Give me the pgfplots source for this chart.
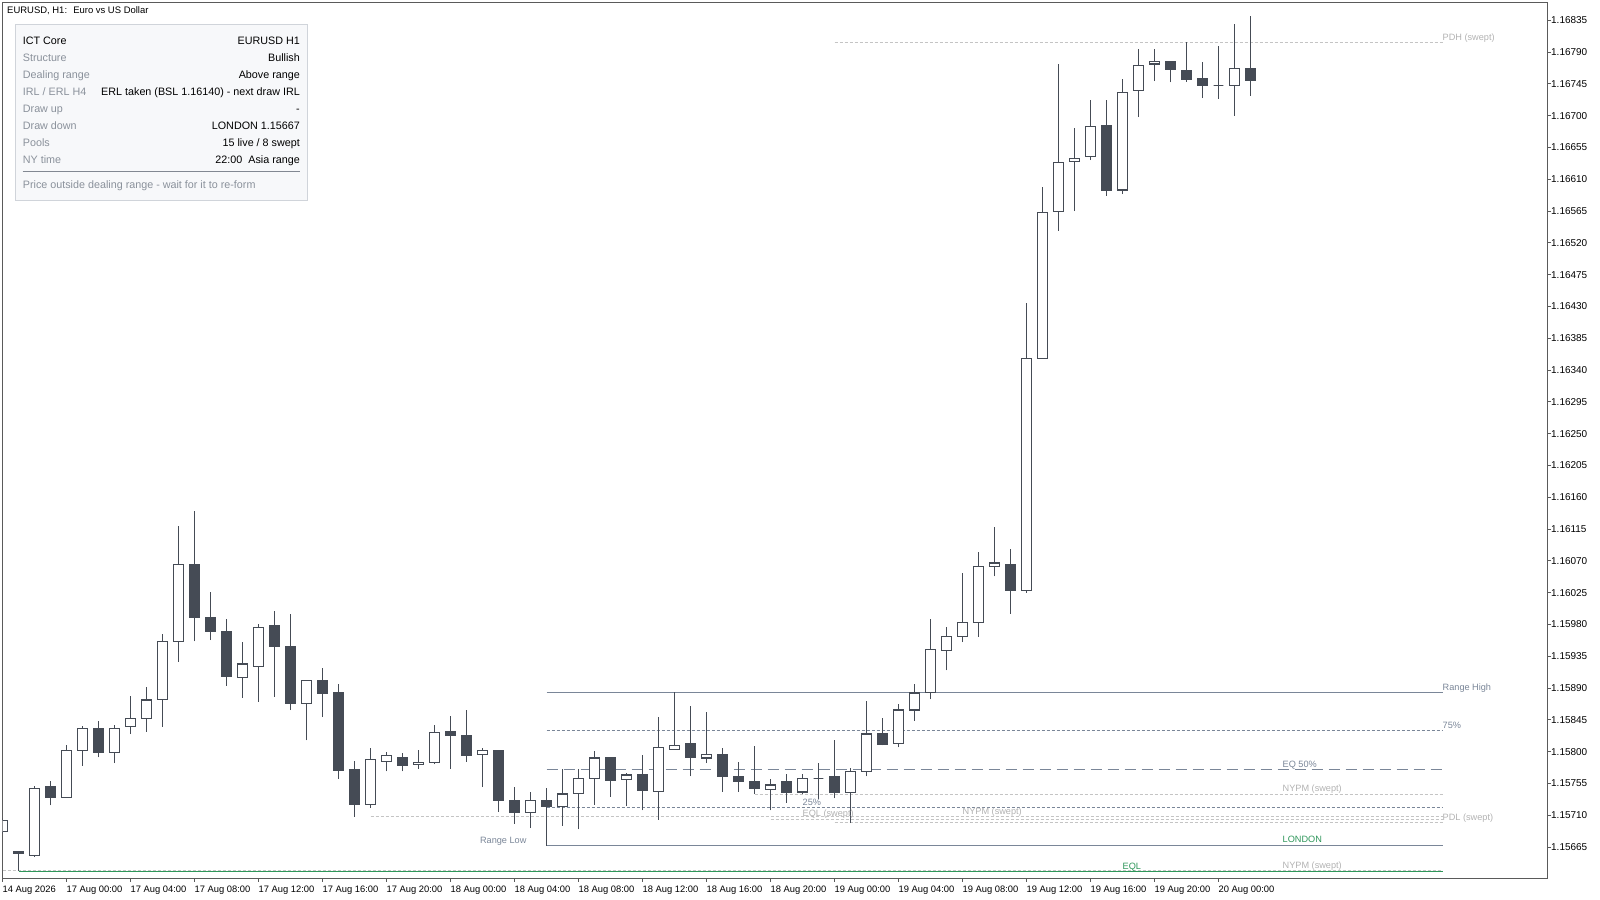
\documentclass[border=0pt]{standalone}
\usepackage{fontspec}
\setmainfont{Liberation Sans}
\usepackage{pgfplots}
\usepackage{pgfplotstable}
\pgfplotsset{compat=1.18}

\definecolor{candle}{RGB}{69,75,85}
\definecolor{frame}{RGB}{90,90,90}
\definecolor{rng}{RGB}{122,134,152}
\definecolor{swept}{RGB}{196,196,196}
\definecolor{swepttext}{RGB}{178,178,178}
\definecolor{eqlgreen}{RGB}{46,150,90}
\definecolor{panelfill}{RGB}{247,248,250}
\definecolor{panelborder}{RGB}{208,212,218}
\definecolor{panellabel}{RGB}{138,145,155}
\definecolor{panelsep}{RGB}{130,136,146}

\newcommand\lbl{\fontsize{9.2}{11}\selectfont}
\newcommand\pnl{\fontsize{10.8}{13}\selectfont}

% k open high low close  (EURUSD H1)
\pgfplotstableread{
k o h l c
0 1.15687 1.15706 1.15684 1.15703
1 1.15659 1.15659 1.15631 1.15656
2 1.15653 1.15751 1.15651 1.15748
3 1.15750 1.15758 1.15724 1.15735
4 1.15735 1.15809 1.15735 1.15802
5 1.15802 1.15836 1.15780 1.15833
6 1.15833 1.15843 1.15792 1.15799
7 1.15799 1.15838 1.15784 1.15833
8 1.15836 1.15879 1.15825 1.15847
9 1.15847 1.15892 1.15828 1.15873
10 1.15874 1.15967 1.15835 1.15956
11 1.15956 1.16119 1.15927 1.16065
12 1.16064 1.16141 1.15956 1.15990
13 1.15990 1.16026 1.15958 1.15970
14 1.15970 1.15988 1.15893 1.15906
15 1.15905 1.15955 1.15876 1.15924
16 1.15921 1.15980 1.15871 1.15976
17 1.15979 1.15999 1.15878 1.15949
18 1.15949 1.15995 1.15859 1.15868
19 1.15868 1.15901 1.15816 1.15901
20 1.15901 1.15918 1.15849 1.15883
21 1.15883 1.15896 1.15762 1.15773
22 1.15775 1.15787 1.15708 1.15725
23 1.15725 1.15805 1.15721 1.15789
24 1.15786 1.15800 1.15772 1.15795
25 1.15792 1.15798 1.15772 1.15780
26 1.15782 1.15802 1.15776 1.15785
27 1.15785 1.15838 1.15782 1.15827
28 1.15828 1.15851 1.15776 1.15823
29 1.15823 1.15859 1.15786 1.15795
30 1.15796 1.15805 1.15750 1.15802
31 1.15802 1.15802 1.15715 1.15731
32 1.15731 1.15750 1.15698 1.15714
33 1.15714 1.15743 1.15692 1.15731
34 1.15731 1.15749 1.15667 1.15722
35 1.15722 1.15776 1.15695 1.15740
36 1.15741 1.15776 1.15690 1.15762
37 1.15762 1.15801 1.15725 1.15791
38 1.15791 1.15792 1.15736 1.15759
39 1.15761 1.15770 1.15723 1.15767
40 1.15768 1.15795 1.15717 1.15745
41 1.15744 1.15849 1.15704 1.15806
42 1.15803 1.15884 1.15803 1.15809
43 1.15811 1.15865 1.15765 1.15792
44 1.15791 1.15856 1.15784 1.15796
45 1.15796 1.15805 1.15743 1.15765
46 1.15765 1.15785 1.15743 1.15758
47 1.15758 1.15808 1.15740 1.15748
48 1.15747 1.15761 1.15717 1.15753
49 1.15758 1.15768 1.15728 1.15743
50 1.15743 1.15768 1.15740 1.15762
51 1.15762 1.15784 1.15733 1.15762
52 1.15765 1.15817 1.15734 1.15743
53 1.15742 1.15777 1.15699 1.15772
54 1.15772 1.15872 1.15765 1.15825
55 1.15825 1.15848 1.15809 1.15810
56 1.15812 1.15868 1.15806 1.15859
57 1.15859 1.15896 1.15844 1.15883
58 1.15884 1.15988 1.15874 1.15945
59 1.15943 1.15976 1.15915 1.15963
60 1.15963 1.16053 1.15955 1.15983
61 1.15983 1.16082 1.15963 1.16062
62 1.16062 1.16118 1.16048 1.16067
63 1.16065 1.16087 1.15995 1.16028
64 1.16028 1.16435 1.16025 1.16356
65 1.16356 1.16599 1.16356 1.16563
66 1.16564 1.16773 1.16537 1.16634
67 1.16635 1.16682 1.16565 1.16639
68 1.16642 1.16722 1.16637 1.16685
69 1.16686 1.16722 1.16587 1.16594
70 1.16595 1.16752 1.16589 1.16733
71 1.16736 1.16794 1.16698 1.16771
72 1.16773 1.16794 1.16749 1.16777
73 1.16777 1.16777 1.16747 1.16765
74 1.16764 1.16804 1.16748 1.16752
75 1.16753 1.16776 1.16725 1.16743
76 1.16743 1.16799 1.16724 1.16743
77 1.16743 1.16830 1.16700 1.16767
78 1.16767 1.16841 1.16728 1.16750
}\candles

\begin{document}
\begin{tikzpicture}
\useasboundingbox (0,0) rectangle (1600bp,900bp);
\begin{axis}[
  at={(2.5bp,21.5bp)}, anchor=south west,
  scale only axis, width=1545bp, height=876.3bp,
  xmin=0, xmax=96.5625,
  y coord trafo/.code={\pgfmathfloatparsenumber{#1}\pgfmathfloattosci{\pgfmathresult}\edef\pgfmathresult{\fpeval{(\pgfmathresult-1.15)*100000}}},
  ymin=1.1562057, ymax=1.1686061,
  axis line style={draw=frame, line width=1bp},
  tick align=outside,
  major tick length=3.5bp,
  tick style={draw=frame, line width=1bp},
  xtick pos=bottom, ytick pos=right,
  yticklabel pos=right,
  xtick={0,4,...,76},
  xticklabels={14 Aug 2026,17 Aug 00:00,17 Aug 04:00,17 Aug 08:00,17 Aug 12:00,17 Aug 16:00,17 Aug 20:00,18 Aug 00:00,18 Aug 04:00,18 Aug 08:00,18 Aug 12:00,18 Aug 16:00,18 Aug 20:00,19 Aug 00:00,19 Aug 04:00,19 Aug 08:00,19 Aug 12:00,19 Aug 16:00,19 Aug 20:00,20 Aug 00:00},
  ytick={1.15665,1.15710,1.15755,1.15800,1.15845,1.15890,1.15935,1.15980,1.16025,1.16070,1.16115,1.16160,1.16205,1.16250,1.16295,1.16340,1.16385,1.16430,1.16475,1.16520,1.16565,1.16610,1.16655,1.16700,1.16745,1.16790,1.16835},
  yticklabels={1.15665,1.15710,1.15755,1.15800,1.15845,1.15890,1.15935,1.15980,1.16025,1.16070,1.16115,1.16160,1.16205,1.16250,1.16295,1.16340,1.16385,1.16430,1.16475,1.16520,1.16565,1.16610,1.16655,1.16700,1.16745,1.16790,1.16835},
  xticklabel style={font=\fontsize{9.4}{11}\selectfont, anchor=north west, inner sep=0pt, yshift=-4bp},
  yticklabel style={font=\fontsize{10}{12}\selectfont, anchor=west, inner sep=0pt},
]
% --- levels (behind candles)
\addplot[draw=swept, line width=1bp, dash pattern=on 3bp off 2bp] coordinates {(52,1.16804) (90,1.16804)};
\addplot[draw=rng, line width=1bp] coordinates {(34,1.15884) (90,1.15884)};
\addplot[draw=rng, line width=1bp, dash pattern=on 3bp off 2bp] coordinates {(34,1.15830) (90,1.15830)};
\addplot[draw=rng, line width=1bp, dash pattern=on 11bp off 6bp] coordinates {(34,1.157755) (90,1.157755)};
\addplot[draw=swept, line width=1bp, dash pattern=on 3bp off 2bp] coordinates {(47,1.15740) (90,1.15740)};
\addplot[draw=rng, line width=1bp, dash pattern=on 3bp off 2bp] coordinates {(34,1.15721) (90,1.15721)};
\addplot[draw=swept, line width=1bp, dash pattern=on 3bp off 2bp] coordinates {(23,1.15709) (90,1.15709)};
\addplot[draw=swept, line width=1bp, dash pattern=on 3bp off 2bp] coordinates {(48,1.15704) (90,1.15704)};
\addplot[draw=swept, line width=1bp, dash pattern=on 3bp off 2bp] coordinates {(52,1.15700) (90,1.15700)};
\addplot[draw=rng, line width=1bp] coordinates {(34,1.15667) (90,1.15667)};
\addplot[draw=rng, line width=1bp] coordinates {(34,1.15722) (34,1.15667)};
\addplot[draw=swept, line width=1bp, dash pattern=on 3bp off 2bp] coordinates {(0,1.15632) (90,1.15632)};
\addplot[draw=eqlgreen, line width=1bp] coordinates {(1,1.15631) (90,1.15631)};
% --- candles
\pgfplotsinvokeforeach{0,...,78}{%
  \pgfplotstablegetelem{#1}{o}\of\candles \let\cO\pgfplotsretval
  \pgfplotstablegetelem{#1}{h}\of\candles \let\cH\pgfplotsretval
  \pgfplotstablegetelem{#1}{l}\of\candles \let\cL\pgfplotsretval
  \pgfplotstablegetelem{#1}{c}\of\candles \let\cC\pgfplotsretval
  \ifdim\cC pt<\cO pt \def\bodyfill{candle}\else\def\bodyfill{white}\fi
  \pgfmathsetmacro\XA{#1-0.31}\pgfmathsetmacro\XB{#1+0.31}%
  \edef\doit{%
    \noexpand\addplot[draw=candle, line width=1.3bp] coordinates {(#1,\cL) (#1,\cH)};
    \noexpand\addplot[draw=candle, fill=\bodyfill, line width=1.3bp] coordinates {(\XA,\cO) (\XB,\cO) (\XB,\cC) (\XA,\cC)} -- cycle;
  }\doit
}
% --- level labels
\node[anchor=base west, inner sep=0pt, font=\lbl, text=swepttext, yshift=1.7bp] at (axis cs:90,1.16804) {PDH (swept)};
\node[anchor=base west, inner sep=0pt, font=\lbl, text=rng, yshift=2.3bp] at (axis cs:90,1.15884) {Range High};
\node[anchor=base west, inner sep=0pt, font=\lbl, text=rng, yshift=2.2bp] at (axis cs:90,1.15830) {75\%};
\node[anchor=base west, inner sep=0pt, font=\lbl, text=rng, yshift=2bp] at (axis cs:80,1.157755) {EQ 50\%};
\node[anchor=base west, inner sep=0pt, font=\lbl, text=swepttext, yshift=2.7bp] at (axis cs:80,1.15740) {NYPM (swept)};
\node[anchor=base west, inner sep=0pt, font=\lbl, text=rng, yshift=2.3bp] at (axis cs:50,1.15721) {25\%};
\node[anchor=base west, inner sep=0pt, font=\lbl, text=swepttext, yshift=2bp] at (axis cs:60,1.15709) {NYPM (swept)};
\node[anchor=base west, inner sep=0pt, font=\lbl, text=swepttext, yshift=3bp] at (axis cs:50,1.15704) {EQL (swept)};
\node[anchor=base west, inner sep=0pt, font=\lbl, text=swepttext, yshift=2.3bp] at (axis cs:90,1.15700) {PDL (swept)};
\node[anchor=base west, inner sep=0pt, font=\lbl, text=eqlgreen, yshift=2.7bp] at (axis cs:80,1.15667) {LONDON};
\node[anchor=base east, inner sep=0pt, font=\lbl, text=rng, yshift=2.3bp] at (axis cs:32.76,1.15667) {Range Low};
\node[anchor=base west, inner sep=0pt, font=\lbl, text=swepttext, yshift=2.4bp] at (axis cs:80,1.15632) {NYPM (swept)};
\node[anchor=base west, inner sep=0pt, font=\lbl, text=eqlgreen, yshift=2bp] at (axis cs:70,1.15631) {EQL};
\end{axis}
% --- title and info panel
\node[anchor=base west, inner sep=0pt, font=\fontsize{9.5}{11}\selectfont] at (7bp,886.4bp) {EURUSD, H1:~ Euro vs US Dollar};
\filldraw[fill=panelfill, draw=panelborder, line width=1bp] (15bp,699.3bp) rectangle (307.3bp,875.7bp);
\begin{scope}[every node/.style={inner sep=0pt, font=\pnl}]
\node[anchor=base west] at (22.7bp,855.4bp) {ICT Core};
\node[anchor=base east] at (300bp,855.4bp) {EURUSD H1};
\node[anchor=base west, text=panellabel] at (22.7bp,838.4bp) {Structure};
\node[anchor=base east] at (300bp,838.4bp) {Bullish};
\node[anchor=base west, text=panellabel] at (22.7bp,821.5bp) {Dealing range};
\node[anchor=base east] at (300bp,821.5bp) {Above range};
\node[anchor=base west, text=panellabel] at (22.7bp,804.5bp) {IRL / ERL H4};
\node[anchor=base east] at (300bp,804.5bp) {ERL taken (BSL 1.16140) - next draw IRL};
\node[anchor=base west, text=panellabel] at (22.7bp,787.6bp) {Draw up};
\node[anchor=base east] at (300bp,787.6bp) {-};
\node[anchor=base west, text=panellabel] at (22.7bp,770.6bp) {Draw down};
\node[anchor=base east] at (300bp,770.6bp) {LONDON 1.15667};
\node[anchor=base west, text=panellabel] at (22.7bp,753.7bp) {Pools};
\node[anchor=base east] at (300bp,753.7bp) {15 live / 8 swept};
\node[anchor=base west, text=panellabel] at (22.7bp,736.7bp) {NY time};
\node[anchor=base east] at (300bp,736.7bp) {22:00~ Asia range};
\node[anchor=base west, text=panellabel] at (22.7bp,711.2bp) {Price outside dealing range - wait for it to re-form};
\end{scope}
\draw[panelsep, line width=1bp] (22.7bp,728.3bp) -- (300bp,728.3bp);
\end{tikzpicture}
\end{document}
